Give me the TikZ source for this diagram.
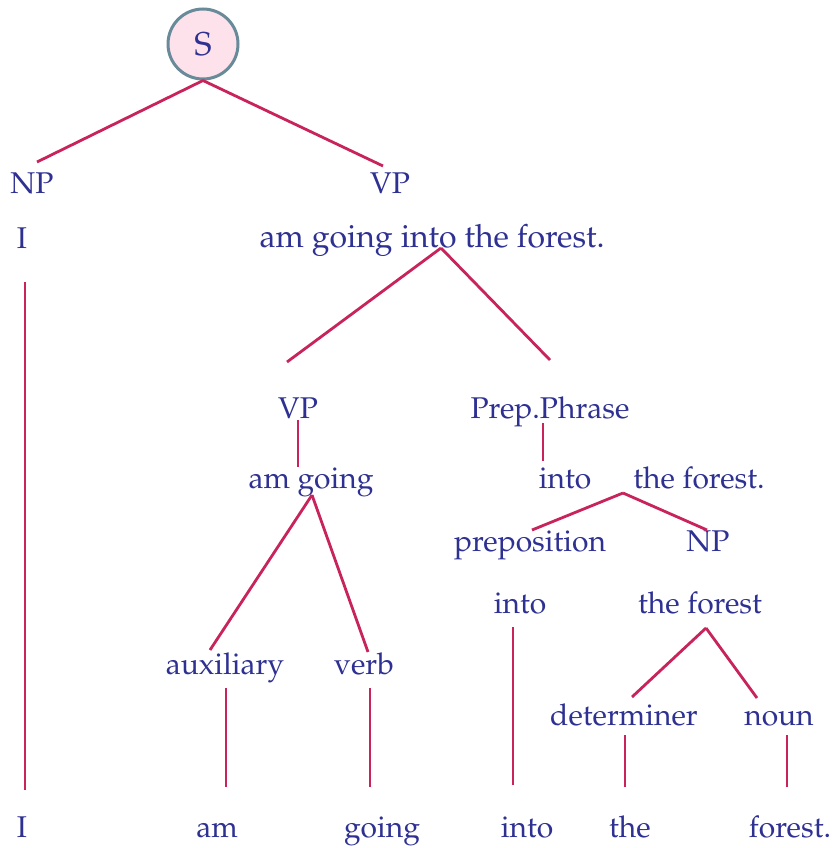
\documentclass[tikz,border=0pt]{standalone}
\usepackage[T1]{fontenc}
\usepackage{mathpazo}
\usepackage{tikz}
\usetikzlibrary{calc}

\definecolor{wordblue}{RGB}{46,49,146}
\definecolor{branchred}{RGB}{200,35,90}
\definecolor{rootfill}{RGB}{253,225,235}
\definecolor{rootedge}{RGB}{104,138,153}

\tikzset{
  word/.style={anchor=base,text=wordblue,inner sep=0pt,font=\fontsize{30}{36}\selectfont},
  branch/.style={draw=branchred,line width=2.8pt},
  root/.style={circle,draw=rootedge,fill=rootfill,line width=3pt,minimum size=70pt,inner sep=0pt,text=wordblue,font=\fontsize{33}{40}\selectfont}
}

\begin{document}
\begin{tikzpicture}[x=1pt,y=-1pt]
\useasboundingbox (0,0) rectangle (832,848);
\node[root] (s) at (203,44) {S};
% level 1
\node[word] (np) at (32,193) {NP};
\node[word] (vp) at (390,193) {VP};
\node[word] (i) at (22,248) {I};
\node[word,font=\fontsize{32}{38}\selectfont] (vpw) at (432,247) {am going into the forest.};
% level 2
\node[word] (vpa) at (298,418) {VP};
\node[word] (pp) at (550,418) {Prep.Phrase};
\node[word] (amgoing) at (311,488) {am going};
\node[word] (ppinto) at (565,488) {into};
\node[word] (ppforest) at (699,488) {the forest.};
\node[word] (prep) at (530,551) {preposition};
\node[word] (npb) at (708,551) {NP};
\node[word] (prepw) at (520,613) {into};
\node[word] (npw) at (700,613) {the forest};
\node[word] (aux) at (225,674) {auxiliary};
\node[word] (verb) at (364,674) {verb};
\node[word] (det) at (624,725) {determiner};
\node[word] (noun) at (779,725) {noun};
% leaves
\node[word] (li) at (22,837) {I};
\node[word] (lam) at (217,837) {am};
\node[word] (lgoing) at (382,837) {going};
\node[word] (linto) at (527,837) {into};
\node[word] (lthe) at (630,837) {the};
\node[word] (lforest) at (790,837) {forest.};
% branch ends
\coordinate (np-in) at (37,162);
\coordinate (vp-in) at (383,166);
\coordinate (i-out) at (25,282);
\coordinate (i-in) at (25,790);
\coordinate (vpw-out) at (441,248);
\coordinate (vpa-in) at (287,362);
\coordinate (pp-in) at (550,360);
\coordinate (vpa-out) at (298,420);
\coordinate (amgoing-in) at (298,467);
\coordinate (pp-out) at (543,423);
\coordinate (ppinto-in) at (543,461);
\coordinate (amgoing-out) at (312,495);
\coordinate (aux-in) at (210,650);
\coordinate (verb-in) at (368,652);
\coordinate (ppforest-out) at (623,493);
\coordinate (prep-in) at (532,530);
\coordinate (npb-in) at (707,530);
\coordinate (prepw-out) at (513,627);
\coordinate (linto-in) at (513,785);
\coordinate (npw-out) at (706,628);
\coordinate (det-in) at (632,697);
\coordinate (noun-in) at (757,698);
\coordinate (aux-out) at (226,688);
\coordinate (lam-in) at (226,787);
\coordinate (verb-out) at (370,688);
\coordinate (lgoing-in) at (370,787);
\coordinate (det-out) at (625,735);
\coordinate (lthe-in) at (625,787);
\coordinate (noun-out) at (787,735);
\coordinate (lforest-in) at (787,787);
\foreach \a/\b in {s.south/np-in,s.south/vp-in,i-out/i-in,vpw-out/vpa-in,vpw-out/pp-in,
  vpa-out/amgoing-in,pp-out/ppinto-in,amgoing-out/aux-in,amgoing-out/verb-in,
  ppforest-out/prep-in,ppforest-out/npb-in,prepw-out/linto-in,npw-out/det-in,npw-out/noun-in,
  aux-out/lam-in,verb-out/lgoing-in,det-out/lthe-in,noun-out/lforest-in}
  \draw[branch] (\a) -- (\b);
\end{tikzpicture}
\end{document}
